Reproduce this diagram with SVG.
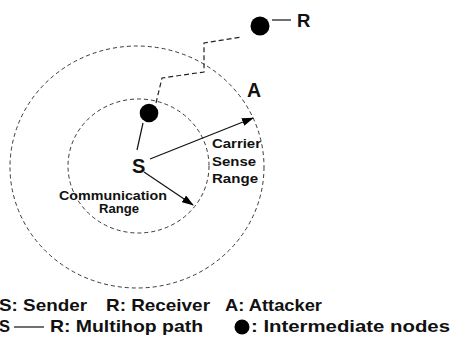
<svg xmlns="http://www.w3.org/2000/svg" width="454" height="339" viewBox="0 0 454 339">
<defs>
<style>
.rng{fill:none;stroke:#222;stroke-width:0.9;stroke-dasharray:4,3}
.path{fill:none;stroke:#222;stroke-width:1.2;stroke-dasharray:5,3}
.ln{fill:none;stroke:#111;stroke-width:1.2}
.node{fill:#000}
text{font-family:"Liberation Sans",Arial,Helvetica,sans-serif;font-weight:bold;fill:#111}
.lbl{font-size:12.5px}
.leg{font-size:17px}
</style>
<marker id="ah" markerWidth="12" markerHeight="8" refX="11" refY="4" orient="auto" markerUnits="userSpaceOnUse">
<path d="M0,0 L12,4 L0,8 Z" fill="#000"/>
</marker>
</defs>
<g id="ranges">
<ellipse class="rng" cx="137" cy="167" rx="127" ry="121"/>
<ellipse class="rng" cx="138.5" cy="166" rx="70.5" ry="67"/>
</g>
<g id="connectors">
<path class="path" d="M156,103 L162,78 L204,72 L204,43 L242,37"/>
<line class="ln" x1="137" y1="150" x2="143" y2="123"/>
<line class="ln" x1="272" y1="20" x2="291" y2="20"/>
<line class="ln" x1="150" y1="159" x2="253" y2="118" marker-end="url(#ah)"/>
<line class="ln" x1="144" y1="172" x2="193" y2="205" marker-end="url(#ah)"/>
</g>
<g id="node-S"><text x="132" y="173" font-size="20">S</text></g>
<g id="node-I"><circle class="node" cx="149" cy="113" r="9.3"/></g>
<g id="node-R"><circle class="node" cx="260" cy="26" r="9.5"/><text x="297" y="27" font-size="18.5">R</text></g>
<g id="node-A"><text x="247" y="97" font-size="19.5">A</text></g>
<g id="labels">
<text class="lbl" x="212" y="148" textLength="49" lengthAdjust="spacingAndGlyphs">Carrier</text>
<text class="lbl" x="212" y="165.5" textLength="44" lengthAdjust="spacingAndGlyphs">Sense</text>
<text class="lbl" x="212" y="182.5" textLength="46" lengthAdjust="spacingAndGlyphs">Range</text>
<text class="lbl" x="59" y="200" textLength="108" lengthAdjust="spacingAndGlyphs">Communication</text>
<text class="lbl" x="99" y="212.5" textLength="40" lengthAdjust="spacingAndGlyphs">Range</text>
</g>
<g id="legend">
<text class="leg" x="-1" y="311" textLength="88" lengthAdjust="spacingAndGlyphs">S: Sender</text>
<text class="leg" x="106" y="311" textLength="104" lengthAdjust="spacingAndGlyphs">R: Receiver</text>
<text class="leg" x="225" y="311" textLength="97" lengthAdjust="spacingAndGlyphs">A: Attacker</text>
<text class="leg" x="-1" y="332" textLength="11" lengthAdjust="spacingAndGlyphs">S</text>
<line class="ln" x1="14" y1="327" x2="44" y2="327"/>
<text class="leg" x="50" y="332" textLength="153" lengthAdjust="spacingAndGlyphs">R: Multihop path</text>
<circle class="node" cx="242" cy="327" r="7.5"/>
<text class="leg" x="251" y="332" textLength="199" lengthAdjust="spacingAndGlyphs">: Intermediate nodes</text>
</g>
</svg>
